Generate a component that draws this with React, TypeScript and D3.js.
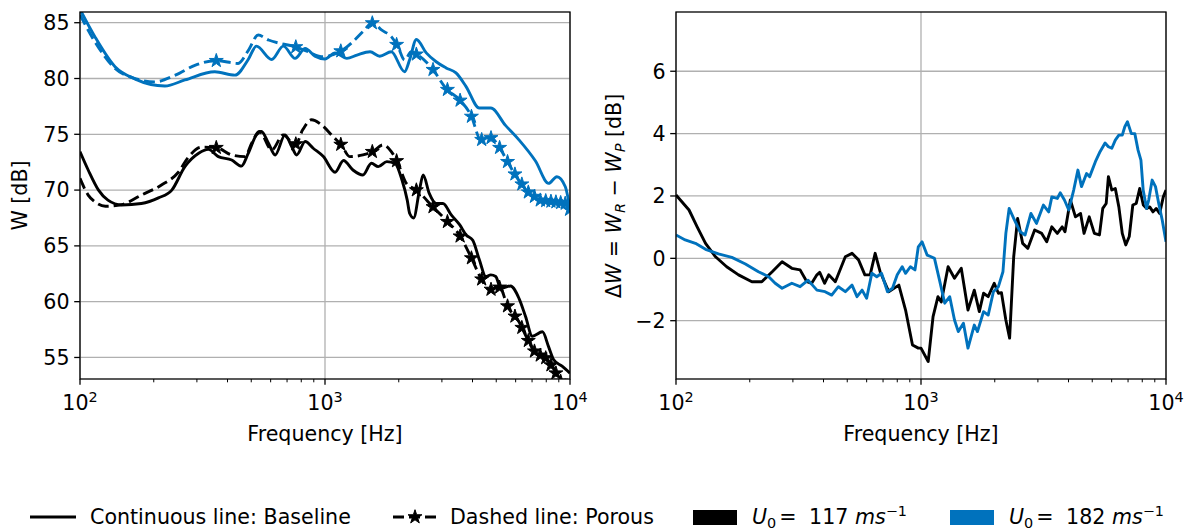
import React from "react";
import * as d3 from "d3";

const BLUE = "#0072BD";
const BLACK = "#000000";
const FONT = "'DejaVu Sans', sans-serif";
const GRID = "#b0b0b0";
const FS = 20.6;
const FS_SMALL = 14.4;

// ---------- Left panel: sound power W [dB] ----------
const fBase117 = [100, 108, 119, 130, 148, 178, 209, 237, 268, 305, 334, 367, 416, 456, 486, 525, 550, 588, 626, 687, 731, 766, 830, 895, 985, 1099, 1190, 1300, 1428, 1547, 1650, 1788, 1930, 2062, 2166, 2217, 2300, 2430, 2516, 2664, 2843, 3029, 3282, 3543, 3760, 4010, 4266, 4534, 4750, 4977, 5215, 5720, 6190, 6590, 7020, 7720, 8180, 8580, 9310, 10000];
const wBase117 = [73.44, 71.8, 70.0, 69.1, 68.67, 68.8, 69.3, 70.0, 72.1, 73.3, 73.65, 73.0, 72.7, 72.15, 73.3, 74.95, 75.25, 74.2, 73.15, 74.95, 73.9, 73.15, 74.35, 73.75, 73.0, 71.6, 72.65, 71.8, 71.35, 72.4, 72.1, 72.55, 72.4, 70.9, 69.1, 67.9, 67.5, 70.0, 71.35, 69.7, 68.8, 68.8, 67.75, 66.9, 66.0, 65.5, 63.75, 62.25, 62.4, 62.25, 61.2, 61.4, 60.3, 58.65, 56.9, 57.3, 55.95, 54.8, 54.2, 53.6];

const fPor117 = [100, 108, 115, 127, 148, 178, 215, 252, 277, 313, 361, 416, 472, 502, 540, 606, 676, 755, 811, 880, 968, 1083, 1170, 1261, 1428, 1565, 1726, 1865, 1985, 2148, 2360, 2758, 3120, 3543, 3942, 4330, 4700, 5145, 5573, 6190, 6720, 7230, 7970, 8630, 9020, 10000];
const wPor117 = [71.05, 69.55, 68.95, 68.55, 68.7, 69.55, 70.45, 71.6, 72.95, 73.85, 73.8, 73.15, 73.0, 74.2, 75.25, 73.6, 74.95, 74.0, 75.4, 76.3, 75.85, 74.75, 74.0, 73.0, 73.15, 73.45, 74.05, 73.45, 72.4, 70.6, 70.0, 68.5, 67.3, 65.95, 64.0, 62.1, 61.05, 61.35, 59.55, 58.2, 56.6, 55.4, 54.95, 53.9, 53.0, 52.0];

const fBase182 = [100, 115, 139, 168, 222, 268, 355, 429, 486, 525, 606, 676, 755, 830, 910, 1000, 1099, 1228, 1350, 1527, 1672, 1865, 2113, 2217, 2360, 2590, 2843, 3120, 3425, 3760, 4266, 4750, 5454, 6190, 7230, 8180, 8840, 9570, 10000];
const wBase182 = [86.2, 83.75, 81.06, 79.95, 79.33, 79.87, 80.6, 80.3, 81.7, 82.9, 81.7, 82.9, 81.8, 82.7, 82.0, 81.75, 82.3, 81.8, 82.1, 82.4, 82.0, 82.4, 80.6, 81.7, 83.5, 82.3, 81.5, 80.95, 80.5, 79.3, 77.35, 77.35, 75.8, 74.5, 72.6, 70.6, 71.2, 70.3, 68.3];

const fPor182 = [100, 115, 139, 168, 202, 245, 296, 361, 442, 486, 534, 588, 655, 755, 853, 968, 1151, 1300, 1428, 1565, 1700, 1865, 1985, 2113, 2250, 2396, 2758, 3120, 3543, 3942, 4330, 4750, 5145, 5573, 6120, 6720, 7500, 8630, 9570, 10000];
const wPor182 = [85.7, 83.3, 80.9, 80.0, 79.7, 80.3, 81.2, 81.6, 81.35, 82.5, 83.9, 83.45, 83.15, 82.85, 82.4, 81.95, 82.4, 83.3, 84.2, 85.0, 84.35, 83.75, 82.85, 81.65, 82.4, 82.1, 80.8, 79.1, 78.1, 76.7, 74.5, 74.7, 73.85, 72.5, 71.0, 69.85, 69.1, 68.95, 68.8, 68.2];

// ---------- Right panel: ΔW = W_R − W_P [dB] ----------
const fDelta117 = [100, 113, 122, 132, 145, 161, 180, 204, 224, 247, 271, 297, 321, 342, 358, 376, 386, 404, 420, 447, 491, 523, 556, 590, 620, 650, 681, 738, 812, 865, 923, 975, 1000, 1070, 1120, 1173, 1210, 1290, 1370, 1460, 1555, 1650, 1730, 1800, 1880, 1990, 2070, 2130, 2220, 2300, 2390, 2480, 2600, 2730, 2910, 3110, 3260, 3420, 3600, 3770, 3870, 4070, 4270, 4480, 4630, 4860, 5100, 5350, 5520, 5700, 5820, 6010, 6210, 6420, 6630, 6850, 7080, 7320, 7560, 7810, 8080, 8340, 8580, 8850, 9120, 9420, 9750, 10000];
const dDelta117 = [2.03, 1.55, 1.01, 0.48, 0.05, -0.27, -0.53, -0.75, -0.75, -0.43, -0.11, -0.32, -0.37, -0.75, -0.8, -0.53, -0.45, -0.8, -0.53, -0.75, 0.05, 0.16, -0.05, -0.53, -0.53, 0.16, -0.43, -1.07, -0.86, -1.66, -2.78, -2.88, -2.88, -3.31, -1.87, -1.23, -1.4, -0.27, -0.64, -0.32, -1.66, -1.02, -1.71, -1.12, -1.23, -0.8, -1.12, -1.1, -1.98, -2.56, 0.05, 1.28, 0.48, 0.32, 0.91, 0.8, 0.53, 1.01, 0.8, 1.01, 0.85, 1.87, 1.33, 1.44, 0.8, 1.33, 0.8, 0.75, 1.6, 1.76, 2.62, 2.19, 2.24, 1.65, 0.8, 0.43, 0.7, 1.71, 1.76, 2.24, 1.71, 1.6, 1.65, 1.49, 1.6, 1.44, 1.97, 2.19];

const fDelta182 = [100, 109, 120, 132, 149, 169, 192, 217, 239, 254, 271, 297, 321, 346, 376, 406, 432, 460, 491, 523, 548, 575, 600, 630, 660, 690, 730, 765, 800, 838, 865, 905, 945, 975, 1010, 1060, 1100, 1135, 1190, 1250, 1310, 1370, 1420, 1490, 1555, 1650, 1700, 1800, 1880, 1975, 2070, 2160, 2220, 2290, 2390, 2540, 2660, 2810, 2960, 3160, 3320, 3420, 3600, 3700, 3850, 4010, 4200, 4370, 4520, 4740, 4880, 5150, 5380, 5640, 5820, 6010, 6210, 6420, 6630, 6790, 6960, 7220, 7460, 7690, 7900, 8070, 8330, 8500, 8780, 9060, 9340, 9650, 10000];
const dDelta182 = [0.75, 0.59, 0.48, 0.29, 0.14, 0.03, -0.18, -0.43, -0.59, -0.8, -0.96, -0.8, -0.91, -0.7, -1.02, -1.07, -1.18, -0.91, -1.07, -0.86, -1.23, -1.02, -1.28, -0.48, -0.59, -0.48, -1.07, -0.96, -0.53, -0.27, -0.48, -0.27, -0.37, 0.37, 0.53, 0.1, 0.05, 0.0, -0.7, -1.44, -1.23, -1.98, -2.35, -2.08, -2.88, -2.14, -2.35, -1.71, -1.82, -1.07, -0.91, -0.43, 0.8, 1.6, 1.28, 0.85, 0.75, 1.44, 1.12, 1.71, 1.49, 1.97, 1.92, 2.1, 1.87, 1.55, 2.19, 2.83, 2.3, 2.72, 2.62, 3.1, 3.42, 3.7, 3.58, 3.53, 3.79, 3.95, 3.95, 4.22, 4.38, 4.0, 4.0, 3.47, 3.15, 2.19, 1.6, 1.87, 2.51, 2.3, 1.76, 1.23, 0.53];

// star marker frequencies on the dashed (porous) curves
const markerFreqs = [360, 760, 1160, 1560, 1960, 2360, 2760, 3160, 3560, 3960, 4360, 4760, 5160, 5560, 5960, 6360, 6760, 7160, 7560, 7960, 8360, 8760, 9160, 9560, 9960];

const leftYTicks = [55, 60, 65, 70, 75, 80, 85];
const rightYTicks = [-2, 0, 2, 4, 6];
const decadeTicks = [100, 1000, 10000];
const decadeExps = ["2", "3", "4"];
const speedLabels = ["117", "182"];
const speedColors = [BLACK, BLUE];

type Series = { f: number[]; v: number[]; color: string; dashed?: boolean; stars?: boolean };

const starPath = d3.symbol().type(d3.symbolStar).size(60)() as string;

function Panel(props: {
  id: string; x0: number; x1: number; y0: number; y1: number;
  yDomain: [number, number]; yTicks: number[]; series: Series[]; smooth: boolean;
}) {
  const { id, x0, x1, y0, y1, yDomain, yTicks, series, smooth } = props;
  const x = d3.scaleLog().domain([100, 10000]).range([x0, x1]);
  const y = d3.scaleLinear().domain(yDomain).range([y1, y0]);
  const minor = x.ticks().filter((t) => !decadeTicks.includes(t));
  const line = d3
    .line<[number, number]>()
    .x((d) => x(d[0]))
    .y((d) => y(d[1]))
    .curve(smooth ? d3.curveMonotoneX : d3.curveLinear);
  const fmt = (t: number) => (t < 0 ? "\u2212" + Math.abs(t) : String(t));
  return (
    <g>
      <defs>
        <clipPath id={id}>
          <rect x={x0} y={y0} width={x1 - x0} height={y1 - y0} />
        </clipPath>
      </defs>
      {decadeTicks.map((t) => (
        <line key={"gx" + t} x1={x(t)} x2={x(t)} y1={y0} y2={y1} stroke={GRID} strokeWidth={1.3} />
      ))}
      {yTicks.map((t) => (
        <line key={"gy" + t} x1={x0} x2={x1} y1={y(t)} y2={y(t)} stroke={GRID} strokeWidth={1.3} />
      ))}
      <g clipPath={`url(#${id})`}>
        {series.map((s, i) => {
          const pts = s.f.map((f, j) => [f, s.v[j]] as [number, number]);
          const interp = d3.scaleLog().domain(s.f).range(s.v);
          return (
            <g key={i}>
              <path
                d={line(pts) as string}
                fill="none"
                stroke={s.color}
                strokeWidth={2.9}
                strokeDasharray={s.dashed ? "11,5" : undefined}
                strokeLinejoin="round"
              />
              {s.stars &&
                markerFreqs.map((mf) => (
                  <path
                    key={mf}
                    d={starPath}
                    transform={`translate(${x(mf)},${y(interp(mf))})`}
                    fill={s.color}
                    stroke={s.color}
                    strokeWidth={1}
                  />
                ))}
            </g>
          );
        })}
      </g>
      <rect x={x0} y={y0} width={x1 - x0} height={y1 - y0} fill="none" stroke="#000" strokeWidth={1.3} />
      {decadeTicks.map((t, i) => (
        <g key={"xt" + t}>
          <line x1={x(t)} x2={x(t)} y1={y1} y2={y1 + 5.8} stroke="#000" strokeWidth={1.3} />
          <text x={x(t)} y={410} textAnchor="middle" fontSize={FS} fontFamily={FONT}>
            10<tspan dy={-8} fontSize={FS_SMALL}>{decadeExps[i]}</tspan>
          </text>
        </g>
      ))}
      {minor.map((t) => (
        <line key={"mx" + t} x1={x(t)} x2={x(t)} y1={y1} y2={y1 + 3.3} stroke="#000" strokeWidth={1} />
      ))}
      {yTicks.map((t) => (
        <g key={"yt" + t}>
          <line x1={x0 - 5.8} x2={x0} y1={y(t)} y2={y(t)} stroke="#000" strokeWidth={1.3} />
          <text x={x0 - 10.5} y={y(t) + 7.4} textAnchor="end" fontSize={FS} fontFamily={FONT}>
            {fmt(t)}
          </text>
        </g>
      ))}
      <text x={(x0 + x1) / 2} y={441} textAnchor="middle" fontSize={FS} fontFamily={FONT}>
        Frequency [Hz]
      </text>
    </g>
  );
}

export default function App() {
  const leftSeries: Series[] = [
    { f: fBase117, v: wBase117, color: BLACK },
    { f: fPor117, v: wPor117, color: BLACK, dashed: true, stars: true },
    { f: fBase182, v: wBase182, color: BLUE },
    { f: fPor182, v: wPor182, color: BLUE, dashed: true, stars: true },
  ];
  const rightSeries: Series[] = [
    { f: fDelta117, v: dDelta117, color: BLACK },
    { f: fDelta182, v: dDelta182, color: BLUE },
  ];
  const legendSpeedX = [693, 950];
  return (
    <svg
      width={1191}
      height={531}
      style={{ position: "absolute", left: 0, top: 0, background: "#fff" }}
      fontFamily={FONT}
    >
      <rect x={0} y={0} width={1191} height={531} fill="#fff" />
      <Panel id="clipL" x0={80} x1={570} y0={12} y1={379} yDomain={[53.07, 85.96]} yTicks={leftYTicks} series={leftSeries} smooth={true} />
      <Panel id="clipR" x0={676} x1={1166} y0={12} y1={379} yDomain={[-3.87, 7.9]} yTicks={rightYTicks} series={rightSeries} smooth={false} />
      <text transform="translate(27,195.5) rotate(-90)" textAnchor="middle" fontSize={FS} fontFamily={FONT}>
        W [dB]
      </text>
      <text transform="translate(621,196) rotate(-90)" textAnchor="middle" fontSize={FS} fontFamily={FONT}>
        Δ<tspan fontStyle="italic">W</tspan> = <tspan fontStyle="italic">W</tspan>
        <tspan fontStyle="italic" fontSize={FS_SMALL} dy={4}>R</tspan>
        <tspan dy={-4}> − </tspan>
        <tspan fontStyle="italic">W</tspan>
        <tspan fontStyle="italic" fontSize={FS_SMALL} dy={4}>P</tspan>
        <tspan dy={-4}> [dB]</tspan>
      </text>
      <line x1={30} x2={76} y1={517} y2={517} stroke="#000" strokeWidth={2.9} />
      <text x={90} y={524} fontSize={FS} fontFamily={FONT}>Continuous line: Baseline</text>
      <line x1={393} x2={437} y1={517} y2={517} stroke="#000" strokeWidth={2.9} strokeDasharray="11,5" />
      <path d={starPath} transform="translate(415,517)" fill="#000" stroke="#000" strokeWidth={1} />
      <text x={450} y={524} fontSize={FS} fontFamily={FONT}>Dashed line: Porous</text>
      {speedLabels.map((lab, i) => {
        const lx = legendSpeedX[i];
        return (
          <g key={lab}>
            <rect x={lx} y={510} width={44} height={15} fill={speedColors[i]} />
            <text x={lx + 59} y={524} fontSize={FS} fontFamily={FONT}>
              <tspan fontStyle="italic">U</tspan>
              <tspan fontSize={FS_SMALL} dy={4}>0</tspan>
              <tspan dy={-4} dx={3}>=</tspan>
              <tspan dx={6}>{"\u00a0" + lab + "\u00a0"}</tspan>
              <tspan fontStyle="italic">ms</tspan>
              <tspan fontSize={FS_SMALL} dy={-8}>−1</tspan>
            </text>
          </g>
        );
      })}
    </svg>
  );
}
